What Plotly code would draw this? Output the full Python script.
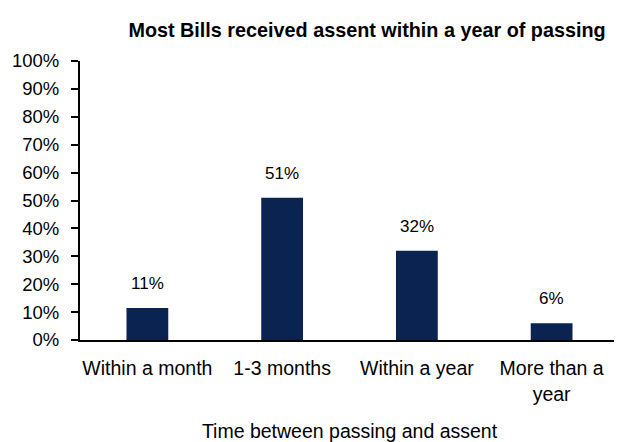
import plotly.graph_objects as go

categories = ["Within a month", "1-3 months", "Within a year", "More than a<br>year"]
values = [11.5, 51.0, 32.0, 6.0]
labels = ["11%", "51%", "32%", "6%"]
y_ticks = [0, 10, 20, 30, 40, 50, 60, 70, 80, 90, 100]
y_tick_text = [f"{v}%" for v in y_ticks]

# page body has an 8px default margin, so the figure is drawn at (8, 8)
OFF = 8
W, H = 622 - OFF, 442 - OFF
ml, mr, mt, mb = 80 - OFF, 3, 61 - OFF, 102

fig = go.Figure()
fig.add_trace(go.Bar(
    x=categories, y=values,
    marker=dict(color="#0a2351", line=dict(width=0)),
))
for c, v, t in zip(categories, values, labels):
    fig.add_annotation(x=c, y=v, text=t, showarrow=False,
                       yanchor="bottom", yshift=13,
                       font=dict(size=17, color="#000000"))
fig.update_layout(
    width=W, height=H,
    margin=dict(l=ml, r=mr, t=mt, b=mb),
    paper_bgcolor="white", plot_bgcolor="white",
    font=dict(family="Liberation Sans, Arial, sans-serif", size=18, color="#000000"),
    bargap=0.69,
    showlegend=False,
    title=dict(text="<b>Most Bills received assent within a year of passing</b>",
               font=dict(size=19.8), x=(367 - OFF)/W, xanchor="center", xref="container",
               y=1 - (30 - OFF)/H, yanchor="middle", yref="container"),
)
fig.update_xaxes(
    showline=True, linecolor="#000000", linewidth=2,
    ticks="", showgrid=False, automargin=False,
    tickfont=dict(size=19.5), ticklabelstandoff=10,
    title=dict(text="Time between passing and assent", font=dict(size=19.5), standoff=23),
)
fig.update_yaxes(
    range=[0, 100], tickvals=y_ticks, ticktext=y_tick_text,
    showline=True, linecolor="#000000", linewidth=2,
    ticks="outside", ticklen=7, tickcolor="#000000", tickwidth=2,
    showgrid=False, zeroline=False, automargin=False,
    tickfont=dict(size=18.5), ticklabelstandoff=8,
)
fig.write_html("out.html")
